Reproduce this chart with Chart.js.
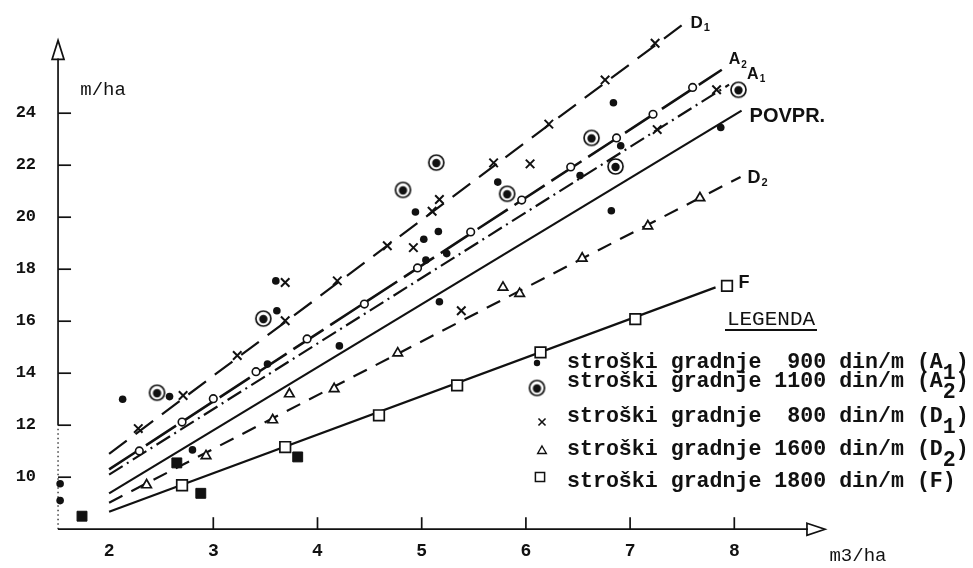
<!DOCTYPE html>
<html>
<head>
<meta charset="utf-8">
<script src="https://cdn.jsdelivr.net/npm/chart.js@4.4.1/dist/chart.umd.min.js"></script>
<style>
  html, body { margin: 0; padding: 0; background: #fff; }
  #wrap { width: 973px; height: 568px; }
</style>
</head>
<body>
<div id="wrap"><canvas id="chart" width="973" height="568"></canvas></div>
<script>
// tick labels
const xTicks = [2, 3, 4, 5, 6, 7, 8];
const yTicks = [10, 12, 14, 16, 18, 20, 22, 24];

// fitted lines, start and end
const lineD1 = [[2.0, 10.9], [7.58, 27.63]];
const lineA2 = [[2.0, 10.3], [7.88, 25.67]];
const lineA1 = [[2.0, 10.1], [7.95, 25.1]];
const linePovpr = [[2.0, 9.38], [8.07, 24.1]];
const lineD2 = [[2.0, 9.02], [8.06, 21.55]];
const lineF = [[2.0, 8.67], [7.82, 17.3]];
const lineNames = [['D', '1'], ['A', '2'], ['A', '1'], ['POVPR.', ''], ['D', '2'], ['F', '']];

// hollow marks sitting on the A2 and F lines
const a2LineMarks = [[2.29, 11.01], [2.70, 12.12], [3.00, 13.02], [3.41, 14.06], [3.90, 15.32], [4.45, 16.66],
  [4.96, 18.05], [5.47, 19.43], [5.96, 20.66], [6.43, 21.93], [6.87, 23.05], [7.22, 23.96], [7.60, 24.99]];
const fLineMarks = [[2.70, 9.69], [3.69, 11.16], [4.59, 12.38], [5.34, 13.53], [6.14, 14.8], [7.05, 16.08], [7.93, 17.36]];

// measured points
const a1Points = [[1.53, 9.75], [1.53, 9.1], [2.13, 13.0], [2.58, 13.1], [2.80, 11.05], [3.52, 14.35], [3.61, 16.4],
  [3.60, 17.55], [4.21, 15.05], [4.94, 20.2], [5.02, 19.15], [5.16, 19.45], [5.04, 18.35], [5.24, 18.6], [5.17, 16.75],
  [5.73, 21.35], [6.52, 21.6], [6.84, 24.4], [6.91, 22.75], [6.82, 20.25], [7.87, 23.45]];
const a2Points = [[2.46, 13.25], [3.48, 16.1], [4.82, 21.05], [5.14, 22.1], [5.82, 20.9], [6.63, 23.05], [6.86, 21.95], [8.04, 24.9]];
const d1Points = [[2.28, 11.87], [2.71, 13.14], [3.23, 14.68], [4.19, 17.55], [4.67, 18.9], [5.10, 20.23], [5.69, 22.09],
  [6.22, 23.58], [6.76, 25.28], [7.24, 26.69], [3.69, 17.49], [3.69, 16.02], [5.17, 20.68], [4.92, 18.83], [6.04, 22.05],
  [5.38, 16.4], [7.83, 24.9], [7.26, 23.37]];
const d2Points = [[2.36, 9.7], [2.93, 10.82], [3.57, 12.2], [3.73, 13.2], [4.16, 13.4], [4.77, 14.77], [5.78, 17.3],
  [5.94, 17.06], [6.54, 18.42], [7.17, 19.66], [7.67, 20.74]];
const fPoints = [[1.74, 8.5], [2.65, 10.55], [2.88, 9.38], [3.81, 10.78]];

const legendTitle = 'LEGENDA';
const legendLabels = [
  ['stroški gradnje  900 din/m (A', '1', ')'],
  ['stroški gradnje 1100 din/m (A', '2', ')'],
  ['stroški gradnje  800 din/m (D', '1', ')'],
  ['stroški gradnje 1600 din/m (D', '2', ')'],
  ['stroški gradnje 1800 din/m (F)', '', '']
];
const yTitle = 'm/ha';
const xTitle = 'm3/ha';

const INK = '#111';
const MONO = '"Liberation Mono", monospace';
const SANS = '"Liberation Sans", Arial, sans-serif';
const toXY = arr => arr.map(([x, y]) => ({ x, y }));

// dot inside a ring
function ringDot() {
  const c = document.createElement('canvas');
  c.width = 19; c.height = 19;
  const g = c.getContext('2d');
  g.fillStyle = '#fff';
  g.strokeStyle = INK;
  g.lineWidth = 1.7;
  g.beginPath(); g.arc(9.5, 9.5, 7.5, 0, Math.PI * 2); g.fill(); g.stroke();
  g.fillStyle = INK;
  g.beginPath(); g.arc(9.5, 10, 4.2, 0, Math.PI * 2); g.fill();
  return c;
}
const ringStyle = ringDot();

function lineSet(pts, dash, width) {
  return {
    data: toXY(pts), showLine: true, fill: false, borderColor: INK, borderWidth: width,
    borderDash: dash, pointRadius: 0, order: 10, clip: false
  };
}
function markSet(pts, style, radius, bg, bw) {
  return {
    data: toXY(pts), showLine: false, pointStyle: style, pointRadius: radius,
    backgroundColor: bg, borderColor: INK, borderWidth: bw, order: 1, clip: false
  };
}

const markStyles = [
  { pointStyle: 'circle', radius: 3.2, bg: INK, bw: 0 },
  { pointStyle: ringStyle, radius: 8, bg: INK, bw: 0 },
  { pointStyle: 'crossRot', radius: 5, bg: INK, bw: 1.6 },
  { pointStyle: 'triangle', radius: 5, bg: '#fff', bw: 1.4 },
  { pointStyle: 'rect', radius: 6.5, bg: '#fff', bw: 1.5 }
];

const axesPlugin = {
  id: 'handAxes',
  beforeDatasetsDraw(chart) {
    const { ctx, scales: { x, y } } = chart;
    const x0 = x.getPixelForValue(1.51);
    const y0 = y.getPixelForValue(8);
    const yTop = y.getPixelForValue(26.8);
    const xEnd = x.getPixelForValue(8.87);
    ctx.save();
    ctx.strokeStyle = INK;
    ctx.fillStyle = INK;
    ctx.lineWidth = 1.7;

    // y axis: solid upper part, dotted low part like the scan
    ctx.beginPath();
    ctx.moveTo(x0, y.getPixelForValue(12));
    ctx.lineTo(x0, yTop + 18);
    ctx.stroke();
    ctx.setLineDash([1.5, 3]);
    ctx.lineWidth = 1.2;
    ctx.beginPath();
    ctx.moveTo(x0, y0);
    ctx.lineTo(x0, y.getPixelForValue(12));
    ctx.stroke();
    ctx.setLineDash([]);
    ctx.lineWidth = 1.7;

    // x axis
    ctx.beginPath();
    ctx.moveTo(x0, y0);
    ctx.lineTo(xEnd - 17, y0);
    ctx.stroke();

    // hollow arrow heads
    ctx.beginPath();
    ctx.moveTo(x0 - 6, yTop + 19);
    ctx.lineTo(x0, yTop);
    ctx.lineTo(x0 + 6, yTop + 19);
    ctx.closePath();
    ctx.stroke();
    ctx.beginPath();
    ctx.moveTo(xEnd - 18, y0 - 6);
    ctx.lineTo(xEnd, y0);
    ctx.lineTo(xEnd - 18, y0 + 6);
    ctx.closePath();
    ctx.stroke();

    // ticks
    yTicks.forEach(v => {
      const py = y.getPixelForValue(v);
      ctx.beginPath(); ctx.moveTo(x0, py); ctx.lineTo(x0 + 13, py); ctx.stroke();
    });
    xTicks.slice(1).forEach(v => {
      const px = x.getPixelForValue(v);
      ctx.beginPath(); ctx.moveTo(px, y0); ctx.lineTo(px, y0 - 12); ctx.stroke();
    });

    // tick labels
    ctx.font = 'bold 17px ' + MONO;
    ctx.textAlign = 'right';
    ctx.textBaseline = 'middle';
    yTicks.forEach(v => ctx.fillText(String(v), x0 - 22, y.getPixelForValue(v)));
    ctx.font = 'bold 18px ' + MONO;
    ctx.textAlign = 'center';
    xTicks.forEach(v => ctx.fillText(String(v), x.getPixelForValue(v), y0 + 22));

    // axis titles
    ctx.font = '19px ' + MONO;
    ctx.fillText(yTitle, x0 + 45, yTop + 50);
    ctx.fillText(xTitle, xEnd + 33, y0 + 27);
    ctx.restore();
  },
  afterDatasetsDraw(chart) {
    const { ctx, scales: { x, y } } = chart;
    const lines = [lineD1, lineA2, lineA1, linePovpr, lineD2, lineF];
    // label offset from the line's end, and size
    const place = [
      { dx: 0, dy: 4, size: 17 },
      { dx: 7, dy: -10, size: 16 },
      { dx: 18, dy: -10, size: 16 },
      { dx: 8, dy: 6, size: 20 },
      { dx: 7, dy: 1, size: 18 },
      { dx: 23, dy: -4, size: 18 }
    ];
    ctx.save();
    ctx.fillStyle = INK;
    ctx.textBaseline = 'middle';
    ctx.textAlign = 'left';
    lines.forEach((ln, i) => {
      const end = ln[1];
      const px = x.getPixelForValue(end[0]) + place[i].dx;
      const py = y.getPixelForValue(end[1]) + place[i].dy;
      ctx.font = 'bold ' + place[i].size + 'px ' + SANS;
      ctx.fillText(lineNames[i][0], px, py);
      if (lineNames[i][1]) {
        const w = ctx.measureText(lineNames[i][0]).width;
        ctx.font = 'bold ' + Math.round(place[i].size * 0.62) + 'px ' + SANS;
        ctx.fillText(lineNames[i][1], px + w + 1, py + 5);
      }
    });

    // legend block
    ctx.font = '21px ' + MONO;
    ctx.textAlign = 'center';
    ctx.textBaseline = 'alphabetic';
    ctx.fillText(legendTitle, 771, 325);
    ctx.lineWidth = 2.2;
    ctx.strokeStyle = INK;
    ctx.beginPath(); ctx.moveTo(725, 330); ctx.lineTo(817, 330); ctx.stroke();

    const rowBase = [368, 387, 422, 455, 487];
    const markAt = [[537, 363], [537, 388], [542, 422], [542, 451], [540, 477]];
    ctx.textAlign = 'left';
    legendLabels.forEach((parts, i) => {
      ctx.font = 'bold 21.6px ' + MONO;
      let px = 567;
      ctx.fillText(parts[0], px, rowBase[i]);
      px += ctx.measureText(parts[0]).width;
      if (parts[1]) {
        ctx.fillText(parts[1], px, rowBase[i] + 11);
        px += ctx.measureText(parts[1]).width;
        ctx.fillText(parts[2], px, rowBase[i]);
      }
      const st = markStyles[i];
      ctx.fillStyle = st.bg;
      ctx.strokeStyle = INK;
      ctx.lineWidth = st.bw;
      Chart.helpers.drawPoint(ctx, { pointStyle: st.pointStyle, radius: st.radius, borderWidth: st.bw, rotation: 0 },
        markAt[i][0], markAt[i][1]);
      ctx.fillStyle = INK;
    });
    ctx.restore();
  }
};

new Chart(document.getElementById('chart'), {
  type: 'scatter',
  data: {
    datasets: [
      lineSet(lineD1, [22, 11], 2.2),
      lineSet(lineA2, [36, 8], 2.6),
      lineSet(lineA1, [16, 5, 2, 5], 2.2),
      lineSet(linePovpr, [], 2.2),
      lineSet(lineD2, [15, 10], 2.2),
      lineSet(lineF, [], 2.2),
      markSet(a2LineMarks, 'circle', 3.8, '#fff', 1.6),
      markSet(fLineMarks, 'rect', 7.5, '#fff', 1.7),
      markSet(a1Points, 'circle', 3.8, INK, 0),
      markSet(a2Points, ringStyle, 8, INK, 0),
      markSet(d1Points, 'crossRot', 6, INK, 2),
      markSet(d2Points, 'triangle', 5.5, '#fff', 1.7),
      markSet(fPoints, 'rect', 7, INK, 1)
    ]
  },
  options: {
    responsive: false,
    animation: false,
    devicePixelRatio: 1,
    events: [],
    layout: { padding: { left: 57, right: 134.5, top: 7.4, bottom: 38.8 } },
    scales: {
      x: { type: 'linear', min: 1.5, max: 9, display: false },
      y: { type: 'linear', min: 8, max: 28, display: false }
    },
    plugins: { legend: { display: false }, tooltip: { enabled: false } }
  },
  plugins: [axesPlugin]
});
</script>
</body>
</html>
